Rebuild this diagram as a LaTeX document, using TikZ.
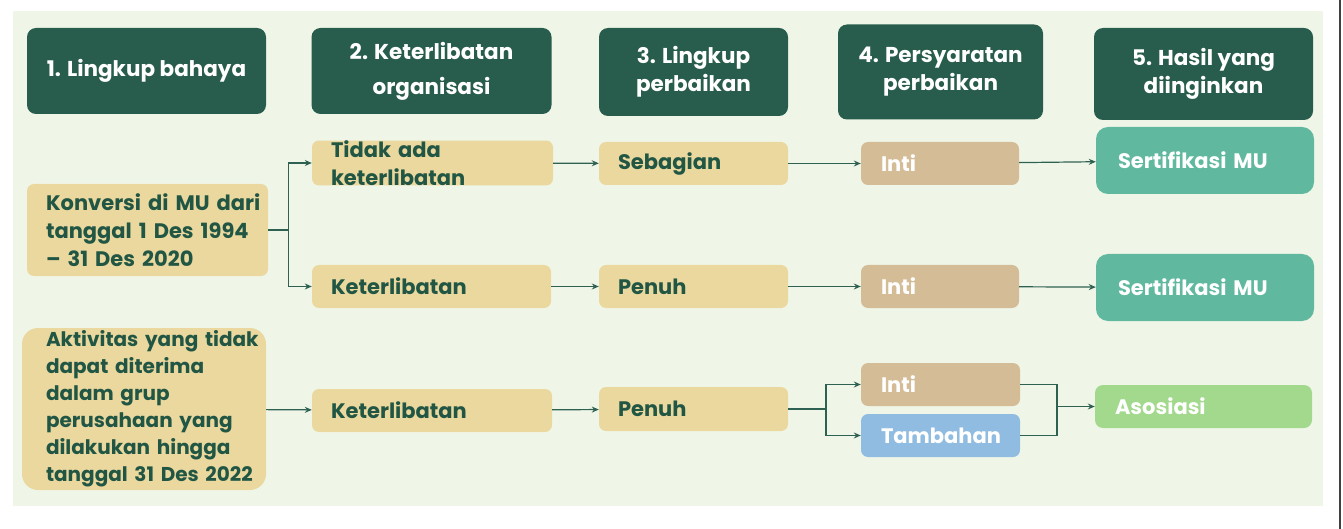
\documentclass[tikz,border=0pt]{standalone}
\usepackage{fontspec}
\setmainfont{Poppins}
\usetikzlibrary{arrows.meta, positioning, calc}
\definecolor{panelbg}{RGB}{239, 246, 232}
\definecolor{hdrgreen}{RGB}{40, 92, 76}
\definecolor{sand}{RGB}{235, 216, 158}
\definecolor{tanbox}{RGB}{212, 188, 150}
\definecolor{tealbox}{RGB}{96, 185, 159}
\definecolor{skybox}{RGB}{143, 188, 224}
\definecolor{leafbox}{RGB}{162, 217, 140}
\definecolor{inkgreen}{RGB}{33, 86, 68}
\definecolor{linegreen}{RGB}{47, 97, 82}

\begin{document}
\begin{tikzpicture}[x=1pt, y=-1pt,
		box/.style={rounded corners=7pt, inner ysep=0pt, font=\bfseries\fontsize{21}{28}\selectfont},
		hdr/.style={box, fill=hdrgreen, text=white, align=center, rounded corners=9pt, font=\bfseries\fontsize{21.5}{28}\selectfont},
		opt/.style={box, fill=sand, text=inkgreen, align=left, inner xsep=19pt},
		req/.style={box, fill=tanbox, text=white, align=left, inner xsep=20pt},
		res/.style={box, fill=tealbox, text=white, align=left, inner xsep=22pt, rounded corners=12pt},
		flow/.style={draw=linegreen, line width=1.2pt, -{Stealth[length=7pt, width=6pt]}},
		link/.style={draw=linegreen, line width=1.2pt}]
	% Canvas
	\useasboundingbox (0,0) rectangle (1343,529);
	\fill[white] (0,0) rectangle (1343,529);
	\fill[panelbg] (13,11) rectangle (1323,506);
	\draw[black!75, line width=1.5pt] (1340,0) -- (1340,529);

	% Column headers
	\node[hdr, minimum width=239, minimum height=86] (h1) at (146.5,71) {1. Lingkup bahaya};
	\node[hdr, minimum width=240, minimum height=86, font=\bfseries\fontsize{21.5}{35}\selectfont] (h2) at (431.5,71) {2. Keterlibatan\\organisasi};
	\node[hdr, minimum width=189, minimum height=88] (h3) at (693.5,72) {3. Lingkup\\perbaikan};
	\node[hdr, minimum width=205, minimum height=95] (h4) at (940.5,72) {4. Persyaratan\\perbaikan};
	\node[hdr, minimum width=219, minimum height=92] (h5) at (1203.5,74) {5. Hasil yang\\diinginkan};

	% Hazard scope
	\node[opt, text width=203, minimum height=92] (konv) at (147.5,230) {Konversi~di~MU~dari\\tanggal~1~Des~1994\\--~31~Des~2020};
	\node[opt, text width=196, inner xsep=24pt, minimum height=162, rounded corners=16pt, font=\bfseries\fontsize{20}{27}\selectfont] (akt) at (144,409)
		{Aktivitas~yang~tidak\\dapat diterima\\dalam grup\\perusahaan~yang\\dilakukan~hingga\\tanggal~31~Des~2022};

	% Row 1
	\node[opt, text width=203, minimum height=44] (tidak) at (432.5,163) {Tidak ada\\keterlibatan};
	\node[opt, text width=151, minimum height=43] (seb) at (693.5,163.5) {Sebagian};
	\node[req, text width=118, minimum height=43] (inti1) at (940,163.5) {Inti};
	\node[res, text width=174, minimum height=67] (sert1) at (1205,160.5) {Sertifikasi~MU};

	% Row 2
	\node[opt, text width=201, minimum height=43] (ket1) at (431.5,286.5) {Keterlibatan};
	\node[opt, text width=151, minimum height=43] (pen1) at (693.5,286.5) {Penuh};
	\node[req, text width=118, minimum height=43] (inti2) at (940,286.5) {Inti};
	\node[res, text width=174, minimum height=67] (sert2) at (1205,287.5) {Sertifikasi~MU};

	% Row 3
	\node[opt, text width=202, minimum height=43] (ket2) at (432,410.5) {Keterlibatan};
	\node[opt, text width=151, minimum height=44] (pen2) at (693.5,409) {Penuh};
	\node[req, text width=119, minimum height=43] (inti3) at (940.5,384.5) {Inti};
	\node[req, fill=skybox, text width=119, minimum height=43] (tamb) at (940.5,435.5) {Tambahan};
	\node[res, fill=leafbox, text width=177, minimum height=43, inner xsep=20pt, rounded corners=8pt] (asos) at (1203.5,406.5) {Asosiasi};

	% Connectors
	\draw[link] (konv.east) -- ++(20,0) coordinate (fork);
	\draw[flow] (fork) |- (tidak.west);
	\draw[flow] (fork) |- (ket1.west);
	\foreach \a/\b in {tidak/seb, seb/inti1, inti1/sert1, ket1/pen1, pen1/inti2, inti2/sert2, akt/ket2, ket2/pen2}
		\draw[flow] (\a) -- (\b);

	\coordinate (split) at (826,409);
	\draw[link] (pen2.east) -- (split);
	\draw[flow] (split) |- (inti3.west);
	\draw[flow] (split) |- (tamb.west);

	\coordinate (join) at (1057,410);
	\draw[link] (inti3.east) -| (join);
	\draw[link] (tamb.east) -| (join);
	\draw[flow] (join |- asos.west) -- (asos.west);
\end{tikzpicture}
\end{document}
